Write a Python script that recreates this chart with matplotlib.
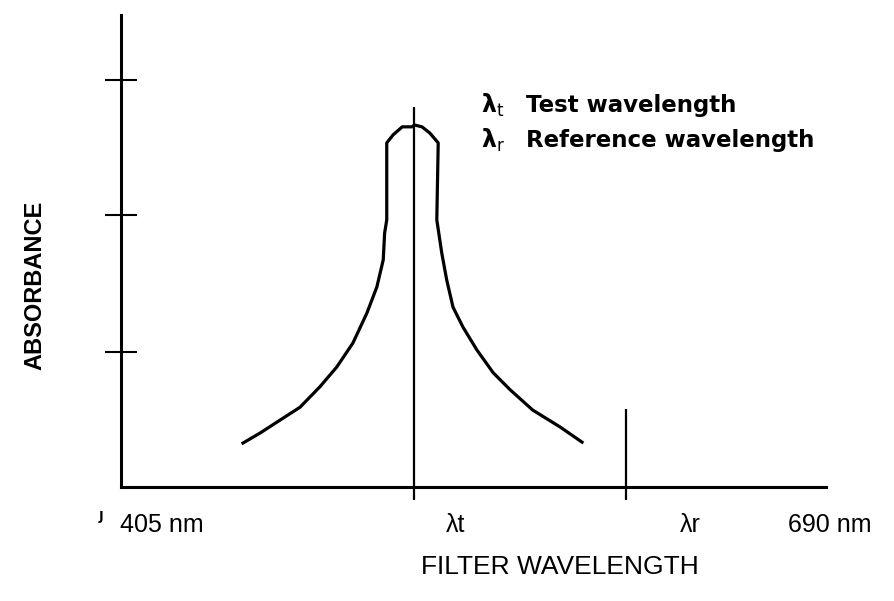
import matplotlib
matplotlib.use("Agg")
import matplotlib.pyplot as plt

# absorbance curve of the filter (arbitrary units)
curve_x = [17.3, 19.7, 22.6, 25.4, 28.2, 30.6, 32.9, 34.9, 36.3, 37.2, 37.4, 37.7,
           37.7, 38.6, 39.9, 41.3, 41.6, 42.7, 43.8, 45.0,
           44.8, 45.5, 46.2, 47.1, 48.5, 50.5, 52.8, 55.2, 58.4, 62.3, 65.4]
curve_y = [9.3, 11.4, 14.2, 16.9, 21.2, 25.4, 30.5, 36.9, 42.4, 48.1, 53.8, 56.6,
           72.9, 74.6, 76.3, 76.3, 76.7, 76.3, 75.0, 72.9,
           56.6, 49.6, 43.9, 38.1, 33.9, 29.0, 24.2, 20.6, 16.3, 12.7, 9.5]

test_wl = 41.6
ref_wl = 71.6
marker_tops = [80.5, 16.5]
y_ticks = [28.6, 57.6, 86.2]

x_labels = ["405 nm", "λt", "λr", "690 nm"]
x_label_pos = [5.8, 47.4, 80.7, 100.6]

fig = plt.figure(figsize=(8.94, 6.01), dpi=100)
ax = fig.add_axes([0.1353, 0.1897, 0.7886, 0.7854])

ax.plot(curve_x, curve_y, color="black", lw=2.3, solid_joinstyle="round")
ax.vlines([test_wl, ref_wl], 0, marker_tops, color="black", lw=1.6)

ax.set_xlim(0, 100)
ax.set_ylim(0, 100)
ax.spines["top"].set_visible(False)
ax.spines["right"].set_visible(False)
ax.spines["left"].set_linewidth(2.2)
ax.spines["bottom"].set_linewidth(2.2)

ax.set_yticks(y_ticks)
ax.set_yticklabels([])
ax.tick_params(axis="y", direction="inout", length=23, width=1.5)
ax.set_xticks([test_wl, ref_wl])
ax.set_xticklabels([])
ax.tick_params(axis="x", direction="out", length=9.5, width=1.6)

for lab, xp in zip(x_labels, x_label_pos):
    ax.text(xp, -8.1, lab, ha="center", va="center", fontsize=18,
            family="Liberation Sans", clip_on=False)
ax.text(-2.8, -6.3, "J", ha="center", va="center", fontsize=9,
        fontweight="bold", clip_on=False)

ax.text(62.3, -17.0, "FILTER WAVELENGTH", ha="center", va="center",
        fontsize=19, family="Liberation Sans", clip_on=False)
fig.text(35 / 894, 1 - 285 / 601, "ABSORBANCE", rotation=90, ha="center",
         va="center", fontsize=17, family="Liberation Sans", fontweight="bold")

# key
ax.text(51.1, 80.9, r"λ$_\mathrm{t}$", ha="left", va="center", fontsize=17,
        fontweight="bold")
ax.text(57.5, 80.9, "Test wavelength", ha="left", va="center", fontsize=16.5,
        fontweight="bold")
ax.text(51.1, 73.5, r"λ$_\mathrm{r}$", ha="left", va="center", fontsize=17,
        fontweight="bold")
ax.text(57.5, 73.5, "Reference wavelength", ha="left", va="center", fontsize=16.5,
        fontweight="bold")

plt.savefig("out.png", dpi=100)
